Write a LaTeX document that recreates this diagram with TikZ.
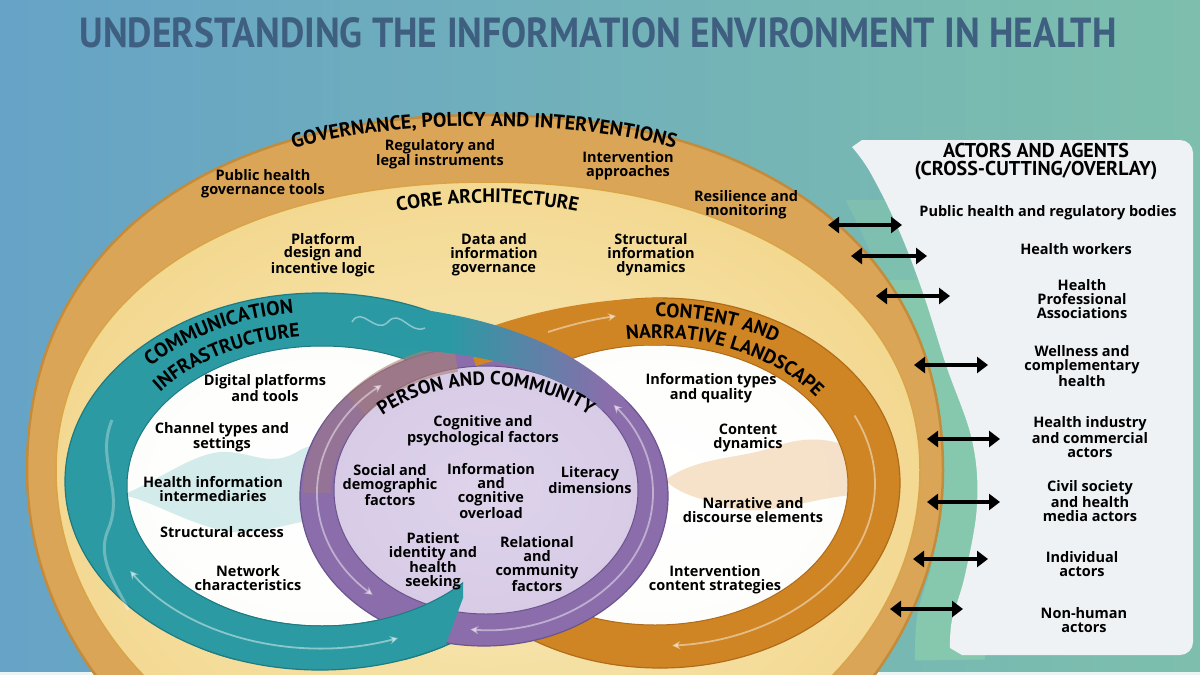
\documentclass[tikz,border=0pt]{standalone}
\usepackage{fontspec}
\usepackage{graphicx}
\setmainfont{Open Sans}
\newfontfamily\hfont{PT Sans}
\usetikzlibrary{arrows.meta,decorations.text}

\definecolor{bgL}{HTML}{66A3C7}
\definecolor{bgR}{HTML}{7DBFAC}
\definecolor{titlec}{HTML}{3F5F80}
\definecolor{mint}{HTML}{86C8AE}
\definecolor{boxc}{HTML}{EEF2F5}
\definecolor{govc}{HTML}{DBA557}
\definecolor{gove}{HTML}{C38B3A}
\definecolor{coree}{HTML}{D9A448}
\definecolor{tealc}{HTML}{2B9AA2}
\definecolor{teale}{HTML}{1E7B83}
\definecolor{orc}{HTML}{CF8523}
\definecolor{ore}{HTML}{B06C18}
\definecolor{purc}{HTML}{8A6DAA}
\definecolor{pure}{HTML}{6C548E}
\definecolor{tanc}{HTML}{A98074}
\definecolor{cloudt}{HTML}{B9DFE0}
\definecolor{cloudo}{HTML}{F2D3AE}

\pgfdeclareradialshading{coreshade}{\pgfpoint{0bp}{0bp}}{rgb(0bp)=(0.97,0.91,0.72); rgb(18bp)=(0.96,0.87,0.62); rgb(28bp)=(0.95,0.84,0.55); rgb(40bp)=(0.93,0.77,0.40); rgb(50bp)=(0.91,0.72,0.30)}
\pgfdeclareradialshading{whiteshade}{\pgfpoint{0bp}{0bp}}{rgb(0bp)=(1,1,1); rgb(38bp)=(0.99,0.99,0.98); rgb(50bp)=(0.88,0.90,0.90)}
\pgfdeclareradialshading{lavshade}{\pgfpoint{0bp}{0bp}}{rgb(0bp)=(0.87,0.83,0.92); rgb(30bp)=(0.84,0.79,0.90); rgb(50bp)=(0.75,0.69,0.84)}
\pgfdeclarehorizontalshading{tealpur}{100bp}{rgb(0bp)=(0.17,0.60,0.64); rgb(42bp)=(0.17,0.60,0.64); rgb(72bp)=(0.54,0.43,0.67); rgb(100bp)=(0.54,0.43,0.67)}

\begin{document}
\begin{tikzpicture}[x=1pt,y=-1pt,
  lbl/.style={font=\bfseries\fontsize{14.5}{13.8}\selectfont, align=center, inner sep=0pt, text=black},
  hdr/.style={font=\hfont\bfseries\fontsize{20}{18}\selectfont, align=center, inner sep=0pt, text=black},
  dbl/.style={{Triangle[length=11pt,width=16pt]}-{Triangle[length=11pt,width=16pt]}, line width=4.5pt, black},
  flowline/.style={draw=white, opacity=0.45, line width=1.8pt},
  sect/.style={decorate, decoration={text along path, text align=center, text color=black}}
]
\useasboundingbox (0,0) rectangle (1200,675);

% background
\shade[left color=bgL, right color=bgR] (0,0) rectangle (1200,675);
\fill[white!85!bgR] (0,672) rectangle (1200,675);

% title
\node[inner sep=0pt, text=titlec] (title) at (598,33) {\resizebox{1037pt}{30pt}{\hfont\bfseries UNDERSTANDING THE INFORMATION ENVIRONMENT IN HEALTH}};

% mint band along the actors box
\begin{scope}
\clip (700,200) rectangle (1100,280);
\draw[mint, opacity=0.5, line width=70pt] plot[smooth, tension=0.6] coordinates {(950,660) (952,620) (965,575) (977,505) (972,440) (946,365) (922,290) (898,228) (870,172) (852,147)};
\end{scope}
\begin{scope}
\clip (700,280) rectangle (1100,675);
\draw[mint, line width=70pt] plot[smooth, tension=0.6] coordinates {(950,660) (952,620) (965,575) (977,505) (972,440) (946,365) (922,290) (898,228) (870,172) (852,147)};
\end{scope}

% actors box
\fill[boxc] (1180,140) arc[start angle=-90, end angle=0, radius=13] -- (1193,642) arc[start angle=0, end angle=90, radius=13] -- (962,655)
  -- plot[smooth, tension=0.6] coordinates {(950,648) (952,620) (965,575) (977,505) (972,440) (946,365) (922,290) (898,228) (870,172) (852,147)} -- (862,140) -- cycle;

% governance shape
\path[fill=govc, draw=gove, line width=2.5pt] (27,470) .. controls (27,250) and (201,115) .. (485,115) .. controls (769,115) and (943,250) .. (943,470) .. controls (943,685) and (738,860) .. (485,860) .. controls (232,860) and (27,685) .. cycle;

% core architecture shape
\shadedraw[shading=coreshade, draw=coree, line width=1.5pt] (56,470) .. controls (56,297) and (229,182) .. (488,182) .. controls (747,182) and (920,297) .. (920,470) .. controls (920,658) and (727,810) .. (488,810) .. controls (249,810) and (56,658) .. cycle;

% white interiors
\shade[shading=whiteshade] (322,486) ellipse[x radius=197, y radius=142];
\shade[shading=whiteshade] (655,485) ellipse[x radius=195, y radius=142];

% clouds
\fill[cloudt, opacity=0.6] (122,495) .. controls (160,480) and (190,455) .. (220,452) .. controls (250,450) and (270,470) .. (300,450) .. controls (320,440) and (335,445) .. (345,470) -- (345,518) .. controls (300,515) and (260,540) .. (220,530) .. controls (180,520) and (150,500) .. cycle;
\fill[cloudo, opacity=0.65] (665,480) .. controls (700,455) and (740,460) .. (780,445) .. controls (810,435) and (840,440) .. (852,450) -- (852,495) .. controls (800,500) and (760,520) .. (720,505) .. controls (700,498) and (680,495) .. cycle;

% content ring (orange)
\fill[orc, even odd rule] (660,483) ellipse[x radius=240, y radius=185] (655,485) ellipse[x radius=193, y radius=140];
\draw[ore, line width=1.2pt] (660,483) ellipse[x radius=240, y radius=185];
\draw[ore, line width=1pt] (655,485) ellipse[x radius=193, y radius=140];

% communication ring (teal)
\fill[tealc, even odd rule] (320,481.5) ellipse[x radius=255, y radius=188.5] (322,486) ellipse[x radius=195, y radius=140];
\draw[teale, line width=1.2pt] (320,481.5) ellipse[x radius=255, y radius=188.5];
\draw[teale, line width=1pt] (322,486) ellipse[x radius=195, y radius=140];

% person ring (purple)
\fill[purc] (484,496) ellipse[x radius=184, y radius=150];
\draw[pure, line width=1.2pt] (484,496) ellipse[x radius=184, y radius=150];
\shade[shading=lavshade] (486,490) ellipse[x radius=152, y radius=124];
\draw[pure, line width=1pt] (486,490) ellipse[x radius=152, y radius=124];

% tan blend on purple upper left
\draw[tanc, opacity=0.6, line width=28pt] (485,493) ++(-100:168 and 137) arc[start angle=-100, end angle=-140, x radius=168, y radius=137];
\draw[tanc, opacity=0.35, line width=28pt] (485,493) ++(-140:168 and 137) arc[start angle=-140, end angle=-180, x radius=168, y radius=137];

% orange crossing band
\fill[orc] (662,298) .. controls (600,298) and (530,310) .. (466,336) -- (476,366) .. controls (535,348) and (600,343) .. (662,346) -- cycle;
\draw[flowline, -{Stealth[length=8pt,width=8pt]}] (548,332) .. controls (570,325) and (590,320) .. (616,316);

% teal crossing band
\shade[shading=tealpur] (360,304) .. controls (450,308) and (560,330) .. (625,400) -- (602,410) .. controls (545,360) and (450,350) .. (360,346) -- cycle;

% teal over purple at bottom left
\begin{scope}
\clip (200,560) -- (463,560) -- (463,598) -- (440,660) -- (200,660) -- cycle;
\fill[tealc, even odd rule] (320,481.5) ellipse[x radius=255, y radius=188.5] (322,486) ellipse[x radius=195, y radius=140];
\draw[teale, line width=1.2pt] (320,481.5) ellipse[x radius=255, y radius=188.5];
\draw[teale, line width=1pt] (322,486) ellipse[x radius=195, y radius=140];
\end{scope}

% flow lines
\draw[flowline, {Stealth[length=8pt,width=8pt]}-{Stealth[length=8pt,width=8pt]}] (321,484) ++(-212:225 and 164) arc[start angle=-212, end angle=-290, x radius=225, y radius=164];
\draw[flowline, {Stealth[length=8pt,width=8pt]}-{Stealth[length=8pt,width=8pt]}] (485,493) ++(-265:168 and 137) arc[start angle=-265, end angle=-400, x radius=168, y radius=137];
\draw[flowline, {Stealth[length=8pt,width=8pt]}-{Stealth[length=8pt,width=8pt]}] (485,493) ++(-228:168 and 137) arc[start angle=-228, end angle=-128, x radius=168, y radius=137];
\draw[flowline, -{Stealth[length=8pt,width=8pt]}] (657,484) ++(-25:218 and 162) arc[start angle=-25, end angle=86, x radius=218, y radius=162];
\draw[white, opacity=0.45, line width=1.5pt] (352,322) .. controls (362,305) and (375,335) .. (388,322) .. controls (400,308) and (410,335) .. (425,328);
\draw[white, opacity=0.3, line width=3pt] (112,420) .. controls (95,460) and (125,490) .. (108,530) .. controls (95,560) and (120,590) .. (128,610);

% section titles
\path[sect, decoration={text={|\hfont\bfseries\fontsize{20}{20}\selectfont|GOVERNANCE, POLICY AND INTERVENTIONS}}] (250,165) .. controls (350,113) and (618,113) .. (718,165);
\path[sect, decoration={text={|\hfont\bfseries\fontsize{19.5}{19.5}\selectfont|CORE ARCHITECTURE}}] (355,223) .. controls (440,196) and (535,196) .. (620,223);
\path[sect, decoration={text={|\hfont\bfseries\fontsize{20}{20}\selectfont|COMMUNICATION}}] (321,484) ++(-170:234 and 172) arc[start angle=-170, end angle=-70, x radius=234, y radius=172];
\path[sect, decoration={text={|\hfont\bfseries\fontsize{19.5}{19.5}\selectfont|INFRASTRUCTURE}}] (321,484) ++(-175:205 and 148) arc[start angle=-175, end angle=-70, x radius=205, y radius=148];
\path[sect, decoration={text={|\hfont\bfseries\fontsize{19.5}{19.5}\selectfont|CONTENT AND}}] (657,484) ++(-118:225 and 167) arc[start angle=-118, end angle=-27, x radius=225, y radius=167];
\path[sect, decoration={text={|\hfont\bfseries\fontsize{19.5}{19.5}\selectfont|NARRATIVE LANDSCAPE}}] (657,484) ++(-120:197 and 146) arc[start angle=-120, end angle=-10, x radius=197, y radius=146];
\path[sect, decoration={text={|\hfont\bfseries\fontsize{19}{19}\selectfont|PERSON AND COMMUNITY}}] (486,494) ++(-165:150 and 109) arc[start angle=-165, end angle=-15, x radius=150, y radius=109];

% governance labels
\node[lbl] (g1) at (440,154) {Regulatory and\\legal instruments};
\node[lbl] (g2) at (263,184) {Public health\\governance tools};
\node[lbl] (g3) at (628,166) {Intervention\\approaches};
\node[lbl] (g4) at (746,205) {Resilience and\\monitoring};
% core labels
\node[lbl] (c1) at (323,255) {Platform\\design and\\incentive logic};
\node[lbl] (c2) at (494,255) {Data and\\information\\governance};
\node[lbl] (c3) at (651,255) {Structural\\information\\dynamics};
% communication labels
\node[lbl] (t1) at (265,388) {Digital platforms\\and tools};
\node[lbl] (t2) at (222,437) {Channel types and\\settings};
\node[lbl] (t3) at (213,489) {Health information\\intermediaries};
\node[lbl] (t4) at (222,532) {Structural access};
\node[lbl] (t5) at (248,578) {Network\\characteristics};
% person labels
\node[lbl] (p1) at (483,431) {Cognitive and\\psychological factors};
\node[lbl] (p2) at (390,485) {Social and\\demographic\\factors};
\node[lbl] (p3) at (491,491) {Information\\and\\cognitive\\overload};
\node[lbl] (p4) at (590,480) {Literacy\\dimensions};
\node[lbl] (p5) at (433,561) {Patient\\identity and\\health\\seeking};
\node[lbl] (p6) at (537,564) {Relational\\and\\community\\factors};
% content labels
\node[lbl] (o1) at (711,388) {Information types\\and quality};
\node[lbl] (o2) at (748,438) {Content\\dynamics};
\node[lbl] (o3) at (753,510) {Narrative and\\discourse elements};
\node[lbl] (o4) at (715,580) {Intervention\\content strategies};

% actors
\node[hdr] (ahdr) at (1036,162) {ACTORS AND AGENTS\\(CROSS-CUTTING/OVERLAY)};
\node[lbl] (a1) at (1048,213) {Public health and regulatory bodies};
\node[lbl] (a2) at (1076,249) {Health workers};
\node[lbl] (a3) at (1082,299) {Health\\Professional\\Associations};
\node[lbl] (a4) at (1082,366) {Wellness and\\complementary\\health};
\node[lbl] (a5) at (1090,437) {Health industry\\and commercial\\actors};
\node[lbl] (a6) at (1090,501) {Civil society\\and health\\media actors};
\node[lbl] (a7) at (1082,564) {Individual\\actors};
\node[lbl] (a8) at (1084,620) {Non-human\\actors};

% arrows
\coordinate (l1) at (828,225); \coordinate (r1) at (902,225);
\coordinate (l2) at (851,256); \coordinate (r2) at (927,256);
\coordinate (l3) at (876,296); \coordinate (r3) at (950,296);
\coordinate (l4) at (914,365); \coordinate (r4) at (988,365);
\coordinate (l5) at (927,439); \coordinate (r5) at (1000,439);
\coordinate (l6) at (927,502); \coordinate (r6) at (1000,502);
\coordinate (l7) at (913,559); \coordinate (r7) at (988,559);
\coordinate (l8) at (890,609); \coordinate (r8) at (963,609);
\foreach \i in {1,...,8} { \draw[dbl] (l\i) -- (r\i); }
\end{tikzpicture}
\end{document}
